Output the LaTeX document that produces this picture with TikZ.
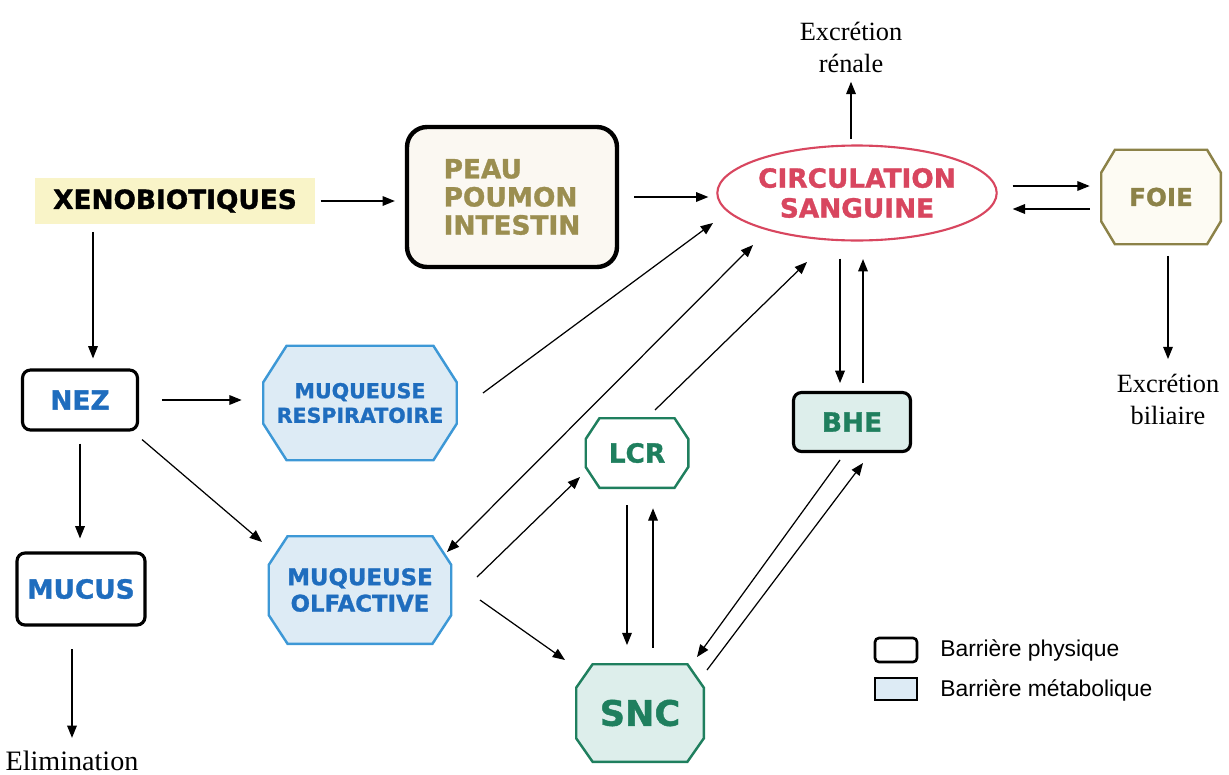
\documentclass[tikz,border=0pt]{standalone}
\usepackage{fontspec}
\setmainfont{Liberation Serif}
\newfontfamily\boxfont{DejaVu Sans}[BoldFeatures={FakeBold=1.2}]
\newfontfamily\legfont{Liberation Sans}
\usepackage{tikz}
\usetikzlibrary{calc,arrows.meta,shapes.geometric}
\usepackage{xcolor}
\definecolor{pale_yellow}{HTML}{F9F4C8}
\definecolor{olive_text}{HTML}{9B8E50}
\definecolor{cream}{HTML}{FBF8F2}
\definecolor{blood_red}{HTML}{D8465F}
\definecolor{liver_olive}{HTML}{8C8248}
\definecolor{liver_fill}{HTML}{FDFBF3}
\definecolor{mucosa_blue}{HTML}{1F6DBE}
\definecolor{mucosa_edge}{HTML}{3D98D6}
\definecolor{mucosa_fill}{HTML}{DDEBF5}
\definecolor{nerve_green}{HTML}{1F7F5E}
\definecolor{nerve_fill}{HTML}{DDEEEB}

\tikzset{
	octo cut/.code 2 args={\def\octocutx{#1}\def\octocuty{#2}},
	octo paint/.code 2 args={\def\octoedge{#1}\def\octofill{#2}},
}

\begin{document}
\begin{tikzpicture}[x=0.02cm, y=-0.02cm,
	arr/.style={-{Triangle[length=7pt,width=5.5pt]}, line width=0.7pt},
	lbl/.style={font=\fontsize{15}{18}\selectfont, align=center, inner sep=0pt},
	wall/.style={draw, line width=1.8pt, rounded corners=0.16cm, fill=white, inner sep=0pt, font=\boxfont\bfseries\fontsize{15}{16}\selectfont},
	octo/.style={rectangle, inner sep=0pt, align=center, font=\boxfont\bfseries\fontsize{13}{15}\selectfont,
		path picture={
			\draw[line width=1.4pt, draw=\octoedge, fill=\octofill]
				($(path picture bounding box.north west)+(\octocutx, -0.7pt)$) --
				($(path picture bounding box.north east)+(-\octocutx, -0.7pt)$) --
				($(path picture bounding box.north east)+(-0.7pt, -\octocuty)$) --
				($(path picture bounding box.south east)+(-0.7pt, \octocuty)$) --
				($(path picture bounding box.south east)+(-\octocutx, 0.7pt)$) --
				($(path picture bounding box.south west)+(\octocutx, 0.7pt)$) --
				($(path picture bounding box.south west)+(0.7pt, \octocuty)$) --
				($(path picture bounding box.north west)+(0.7pt, -\octocuty)$) -- cycle;
		}}]
	\useasboundingbox (0, 0) rectangle (1229, 774);
	\node[fill=pale_yellow, minimum width=5.6cm, minimum height=0.94cm, font=\boxfont\bfseries\fontsize{15}{16}\selectfont] (xeno) at (175, 201) {XENOBIOTIQUES};
	\node[draw, line width=2.5pt, rounded corners=0.4cm, fill=cream, minimum width=4.2cm, minimum height=2.8cm, align=left, text=olive_text, font=\boxfont\bfseries\fontsize{15}{16}\selectfont] (peau) at (512, 197) {PEAU\\POUMON\\INTESTIN};
	\node[ellipse, draw=blood_red, line width=1.2pt, fill=white, minimum width=5.5cm, minimum height=1.9cm, inner sep=0pt, align=center, text=blood_red, font=\boxfont\bfseries\fontsize{15}{17}\selectfont] (circ) at (857, 193) {CIRCULATION\\SANGUINE};
	\node[octo, octo cut={8.5pt}{13.7pt}, octo paint={liver_olive}{liver_fill}, text=liver_olive, minimum width=2.44cm, minimum height=1.94cm, font=\boxfont\bfseries\fontsize{14}{15}\selectfont] (foie) at (1161, 197) {FOIE};
	\node[lbl, anchor=south] (renal) at (851, 73) {Excrétion\\rénale};
	\node[lbl, anchor=north] (bile) at (1168, 374) {Excrétion\\biliaire};
	\node[wall, text=mucosa_blue, minimum width=2.3cm, minimum height=1.2cm] (nez) at (80, 400) {NEZ};
	\node[octo, octo cut={14pt}{21.5pt}, octo paint={mucosa_edge}{mucosa_fill}, text=mucosa_blue, minimum width=3.92cm, minimum height=2.34cm, font=\boxfont\bfseries\fontsize{11.7}{14}\selectfont] (resp) at (360, 403) {MUQUEUSE\\RESPIRATOIRE};
	\node[wall, text=mucosa_blue, minimum width=2.56cm, minimum height=1.44cm] (mucus) at (81, 589) {MUCUS};
	\node[octo, octo cut={11.4pt}{17pt}, octo paint={mucosa_edge}{mucosa_fill}, text=mucosa_blue, minimum width=3.7cm, minimum height=2.2cm] (olf) at (360, 590) {MUQUEUSE\\OLFACTIVE};
	\node[lbl, anchor=base, font=\fontsize{16}{18}\selectfont] (elim) at (72, 770) {Elimination};
	\node[octo, octo cut={8.5pt}{12.5pt}, octo paint={nerve_green}{white}, text=nerve_green, minimum width=2.1cm, minimum height=1.44cm, font=\boxfont\bfseries\fontsize{15}{16}\selectfont] (lcr) at (637, 453) {LCR};
	\node[wall, fill=nerve_fill, text=nerve_green, minimum width=2.34cm, minimum height=1.18cm] (bhe) at (852, 422) {BHE};
	\node[octo, octo cut={10pt}{14pt}, octo paint={nerve_green}{nerve_fill}, text=nerve_green, minimum width=2.6cm, minimum height=2cm, font=\boxfont\bfseries\fontsize{20}{22}\selectfont] (snc) at (640, 713) {SNC};
	\node[draw, line width=1.5pt, rounded corners=0.08cm, fill=white, minimum width=0.84cm, minimum height=0.48cm] (phys) at (896, 650) {};
	\node[draw, line width=1.2pt, fill=mucosa_fill, minimum width=0.84cm, minimum height=0.44cm] (meta) at (896, 689) {};
	\node[anchor=west, inner sep=0pt, font=\legfont\fontsize{13}{15}\selectfont] (physlbl) at (940, 650) {Barrière physique};
	\node[anchor=west, inner sep=0pt, font=\legfont\fontsize{13}{15}\selectfont] (metalbl) at (940, 690) {Barrière métabolique};
	\draw[arr, shorten <=3pt, shorten >=5.7pt] (xeno.east) -- (xeno.east -| peau.west);
	\draw[arr, shorten <=8.5pt, shorten >=4.5pt] (peau.east) -- (peau.east -| circ.west);
	\draw[arr, shorten <=8.5pt, shorten >=5.7pt] ($(circ.east)+(0, -7)$) -- ($(circ.east -| foie.west)+(0, -7)$);
	\draw[arr, shorten <=5.7pt, shorten >=8.5pt] ($(foie.west)+(0, 12)$) -- ($(foie.west -| circ.east)+(0, 12)$);
	\draw[arr, shorten <=3pt, shorten >=5pt] (renal.south |- circ.north) -- (renal.south);
	\draw[arr, shorten <=5.7pt, shorten >=8.5pt] (bile.north |- foie.south) -- (bile.north);
	\draw[arr, shorten <=4pt, shorten >=5.7pt] ($(nez.north |- xeno.south)+(13, 0)$) -- ($(nez.north)+(13, 0)$);
	\draw[arr, shorten <=13pt, shorten >=11.4pt] (nez.east) -- (nez.east -| resp.west);
	\draw[arr, shorten <=6.8pt, shorten >=7.4pt] (nez.south) -- (nez.south |- mucus.north);
	\draw[arr] ($(nez.south east)+(3, 8)$) -- ($(olf.center)+(-98, -48)$);
	\draw[arr, shorten <=13pt, shorten >=7pt] (elim.north |- mucus.south) -- (elim.north);
	\draw[arr] ($(resp.center)+(123, -10)$) -- ($(circ.center)+(-144, 30)$);
	\draw[arr, {Triangle[length=7pt,width=5.5pt]}-{Triangle[length=7pt,width=5.5pt]}] ($(circ.center)+(-104, 52)$) -- ($(olf.center)+(87, -38)$);
	\draw[arr] ($(lcr.center)+(18, -43)$) -- ($(circ.center)+(-50, 69)$);
	\draw[arr] ($(olf.center)+(117, -13)$) -- ($(lcr.center)+(-57, 24)$);
	\draw[arr] ($(olf.center)+(120, 10)$) -- ($(snc.center)+(-75, -53)$);
	\draw[arr, shorten <=9pt, shorten >=10pt] ($(lcr.south)+(-10, 0)$) -- ($(lcr.south |- snc.north)+(-10, 0)$);
	\draw[arr, shorten <=8.5pt, shorten >=10.8pt] ($(lcr.south |- snc.north)+(16, 0)$) -- ($(lcr.south)+(16, 0)$);
	\draw[arr, shorten <=9.7pt, shorten >=4.5pt] ($(bhe.north |- circ.south)+(-12, 0)$) -- ($(bhe.north)+(-12, 0)$);
	\draw[arr, shorten <=4.5pt, shorten >=10pt] ($(bhe.north)+(11, 0)$) -- ($(bhe.north |- circ.south)+(11, 0)$);
	\draw[arr] ($(bhe.center)+(-12, 38)$) -- ($(snc.center)+(57, -56)$);
	\draw[arr] ($(snc.center)+(67, -43)$) -- ($(bhe.center)+(11, 41)$);
\end{tikzpicture}
\end{document}
